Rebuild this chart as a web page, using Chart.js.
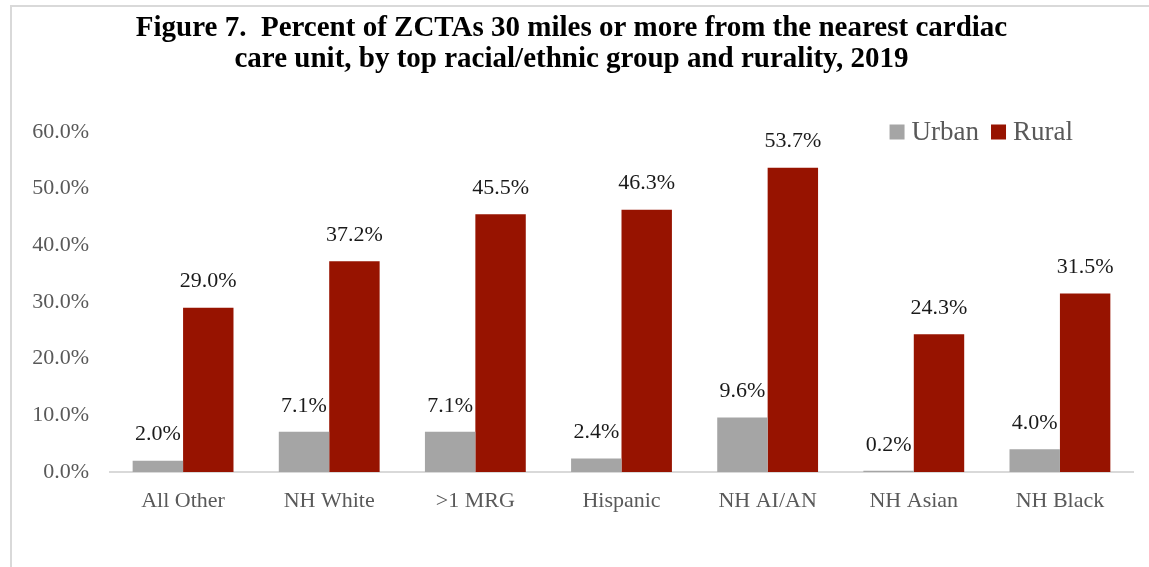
<!DOCTYPE html>
<html>
<head>
<meta charset="utf-8">
<script src="https://cdn.jsdelivr.net/npm/chart.js@4.4.0/dist/chart.umd.min.js"></script>
<style>
    html, body { margin: 0; padding: 0; background: #fff; }
    #wrap { position: relative; width: 1149px; height: 567px; overflow: hidden; }
    #frame { position: absolute; left: 10px; top: 5px; width: 1200px; height: 600px;
             border-top: 2px solid #d9d9d9; border-left: 2px solid #d9d9d9; }
    #myChart { position: absolute; left: 0; top: 0; }
</style>
</head>
<body>
<div id="wrap">
    <div id="frame"></div>
    <canvas id="myChart" width="1149" height="567"></canvas>
</div>
<script>
const categorias = ['All Other', 'NH White', '>1 MRG', 'Hispanic', 'NH AI/AN', 'NH Asian', 'NH Black'];
const urbano = [2.0, 7.1, 7.1, 2.4, 9.6, 0.2, 4.0];
const rural = [29.0, 37.2, 45.5, 46.3, 53.7, 24.3, 31.5];
const yTicks = [0, 10, 20, 30, 40, 50, 60];
const titulo = [
    'Figure 7.  Percent of ZCTAs 30 miles or more from the nearest cardiac',
    'care unit, by top racial/ethnic group and rurality, 2019'
];

const serif = "'Liberation Serif', 'DejaVu Serif', serif";

// etiquetas de valor encima de cada barra
const etiquetas = {
    id: 'etiquetas',
    afterDatasetsDraw(chart) {
        const ctx = chart.ctx;
        ctx.save();
        ctx.font = '22px ' + serif;
        ctx.fillStyle = '#1a1a1a';
        ctx.textAlign = 'center';
        ctx.textBaseline = 'middle';
        chart.data.datasets.forEach((ds, i) => {
            chart.getDatasetMeta(i).data.forEach((bar, j) => {
                ctx.fillText(ds.data[j].toFixed(1) + '%', bar.x, bar.y - 26);
            });
        });
        ctx.restore();
    }
};

// leyenda dentro del area del grafico, arriba a la derecha
const leyenda = {
    id: 'leyenda',
    afterDraw(chart) {
        const ctx = chart.ctx;
        const area = chart.chartArea;
        ctx.save();
        ctx.font = '27px ' + serif;
        ctx.textBaseline = 'middle';
        const box = 15, gap = 7, spacing = 12;
        const items = chart.data.datasets.map(ds => ({
            label: ds.label, color: ds.backgroundColor, w: ctx.measureText(ds.label).width
        }));
        let total = items.reduce((s, it) => s + box + gap + it.w, 0) + spacing * (items.length - 1);
        let x = area.right - 60 - total;
        const y = area.top;
        items.forEach(it => {
            ctx.fillStyle = it.color;
            ctx.fillRect(x, y - box / 2, box, box);
            x += box + gap;
            ctx.fillStyle = '#595959';
            ctx.fillText(it.label, x, y + 1);
            x += it.w + spacing;
        });
        ctx.restore();
    }
};

const ctx = document.getElementById('myChart').getContext('2d');
new Chart(ctx, {
    type: 'bar',
    data: {
        labels: categorias,
        datasets: [
            { label: 'Urban', data: urbano, backgroundColor: '#a5a5a5' },
            { label: 'Rural', data: rural, backgroundColor: '#971300' }
        ]
    },
    options: {
        responsive: false,
        animation: false,
        layout: { padding: { left: 10, right: 16, top: 0, bottom: 0 } },
        datasets: { bar: { categoryPercentage: 0.69, barPercentage: 1.0 } },
        plugins: {
            legend: { display: false },
            tooltip: { enabled: false },
            title: {
                display: true,
                text: titulo,
                color: '#000',
                font: { family: serif, size: 29, weight: 'bold', lineHeight: 31 / 29 },
                padding: { top: 13, bottom: 57 }
            }
        },
        scales: {
            x: {
                grid: { display: false, drawTicks: false },
                border: { display: true, color: '#d9d9d9', width: 2 },
                ticks: { color: '#595959', font: { family: serif, size: 22 }, padding: 16 },
                afterFit(scale) { scale.height = 95; }
            },
            y: {
                min: 0,
                max: 60,
                afterBuildTicks(scale) { scale.ticks = yTicks.map(v => ({ value: v })); },
                grid: { display: false, drawTicks: false },
                border: { display: false },
                ticks: {
                    color: '#595959',
                    font: { family: serif, size: 22 },
                    padding: 21,
                    callback: v => v.toFixed(1) + '%'
                },
                afterFit(scale) { scale.width = 100; }
            }
        }
    },
    plugins: [etiquetas, leyenda]
});
</script>
</body>
</html>
